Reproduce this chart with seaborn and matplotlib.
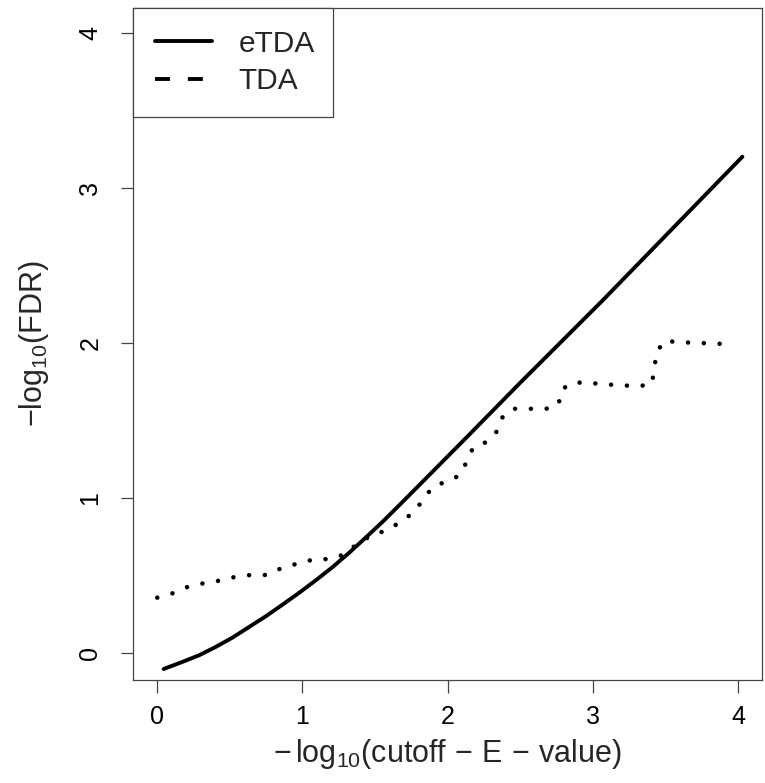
import matplotlib
matplotlib.use("Agg")
import matplotlib.pyplot as plt
import seaborn as sns
import pandas as pd
from matplotlib.lines import Line2D

# eTDA curve (solid)
etda_x = [0.044, 0.177, 0.292, 0.406, 0.521, 0.636, 0.751, 0.866, 0.981, 1.095, 1.210,
          1.325, 1.440, 1.554, 1.669, 1.950, 2.153, 2.500, 3.070, 3.500, 4.030]
etda_y = [-0.103, -0.056, -0.013, 0.041, 0.101, 0.170, 0.239, 0.314, 0.391, 0.471, 0.556,
          0.649, 0.748, 0.848, 0.955, 1.220, 1.412, 1.743, 2.276, 2.690, 3.200]

# TDA curve (dotted)
tda_x = [0.00, 0.106, 0.209, 0.315, 0.423, 0.533, 0.643, 0.753, 0.857, 0.964, 1.072, 1.183,
         1.283, 1.373, 1.467, 1.568, 1.665, 1.754, 1.825, 1.890, 1.979, 2.076, 2.131, 2.176,
         2.266, 2.335, 2.379, 2.448, 2.560, 2.672, 2.762, 2.792, 2.868, 2.980, 3.090, 3.200,
         3.313, 3.407, 3.423, 3.441, 3.490, 3.600, 3.710, 3.823, 3.935]
tda_y = [0.357, 0.385, 0.426, 0.449, 0.466, 0.490, 0.503, 0.503, 0.548, 0.576, 0.602, 0.606,
         0.634, 0.700, 0.754, 0.788, 0.838, 0.898, 0.978, 1.064, 1.103, 1.141, 1.231, 1.326,
         1.360, 1.425, 1.522, 1.575, 1.575, 1.573, 1.601, 1.704, 1.745, 1.741, 1.732, 1.726,
         1.720, 1.734, 1.837, 1.941, 2.012, 2.005, 1.999, 1.997, 1.990]

x_ticks = [0, 1, 2, 3, 4]
y_ticks = [0, 1, 2, 3, 4]
legend_labels = ["eTDA", "TDA"]

sns.set_theme(style="white")
plt.rcParams["font.family"] = ["Liberation Sans", "DejaVu Sans"]
plt.rcParams["mathtext.fontset"] = "custom"
plt.rcParams["mathtext.rm"] = "Liberation Sans"
plt.rcParams["mathtext.it"] = "Liberation Sans:italic"
plt.rcParams["mathtext.bf"] = "Liberation Sans:bold"

fig = plt.figure(figsize=(7.65, 7.83), dpi=100)
ax = fig.add_axes([133 / 765, 1 - 680 / 783, 629 / 765, 672 / 783])

lw = 2.8
lw_dot = 3.3
df_e = pd.DataFrame({"x": etda_x, "y": etda_y})
df_t = pd.DataFrame({"x": tda_x, "y": tda_y})
sns.lineplot(data=df_e, x="x", y="y", ax=ax, color="black", linewidth=lw, sort=False,
             estimator=None)
sns.lineplot(data=df_t, x="x", y="y", ax=ax, color="black", linewidth=lw_dot, sort=False,
             estimator=None, dashes=False)
ax.lines[1].set_linestyle((0, (0.001, 3.45)))
ax.lines[1].set_dash_capstyle("round")

ax.set_xlim(-0.167, 4.165)
ax.set_ylim(-0.174, 4.159)
ax.set_xticks(x_ticks)
ax.set_yticks(y_ticks)
ax.set_xticklabels([str(t) for t in x_ticks])
ax.set_yticklabels([str(t) for t in y_ticks])

fs_tick = 18
fs_lab = 22
fs_leg = 21.5
ax.tick_params(axis="both", direction="out", length=9, width=0.9, color="#444444",
               labelsize=fs_tick, labelcolor="black", bottom=True, left=True)
ax.tick_params(axis="x", pad=9)
ax.tick_params(axis="y", pad=13, labelrotation=90)
for lab in ax.get_yticklabels():
    lab.set_va("center")

for s in ax.spines.values():
    s.set_color("#444444")
    s.set_linewidth(0.9)

ax.set_xlabel(r"$-\,\mathrm{log}_{10}(\mathrm{cutoff}\,-\,\mathrm{E}\,-\,\mathrm{value})$",
              fontsize=fs_lab, labelpad=6)
ax.set_ylabel(r"$-\mathrm{log}_{10}(\mathrm{FDR})$", fontsize=fs_lab, labelpad=20)

handles = [Line2D([], [], color="black", linewidth=lw, linestyle="-"),
           Line2D([], [], color="black", linewidth=lw, linestyle=(0, (3.85, 4.6)))]
leg = ax.legend(handles, legend_labels, loc="upper left", bbox_to_anchor=(0, 1, 200 / 629, 0),
                mode="expand", borderaxespad=0, fancybox=False, fontsize=fs_leg,
                handlelength=1.94, handletextpad=0.87, borderpad=0.72, labelspacing=0.32,
                frameon=True)
leg.get_frame().set_edgecolor("#444444")
leg.get_frame().set_linewidth(0.9)
leg.get_frame().set_alpha(1)

fig.savefig("out.png", dpi=100)
